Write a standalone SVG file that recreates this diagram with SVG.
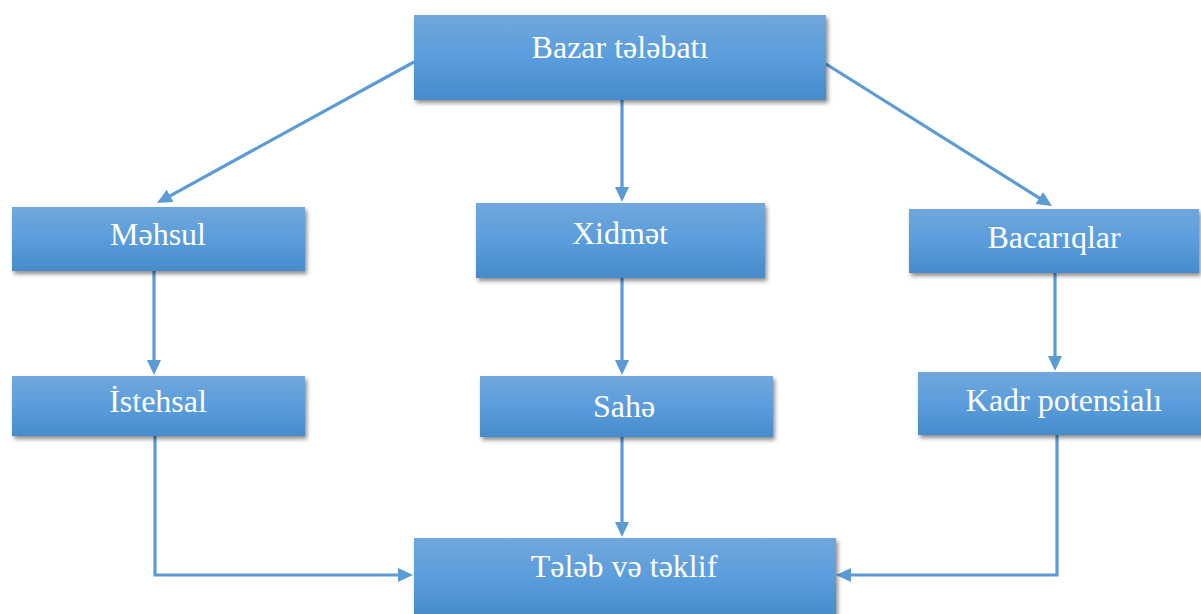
<svg xmlns="http://www.w3.org/2000/svg" width="1201" height="614" viewBox="0 0 1201 614">
<style>
.box{fill:url(#g);filter:url(#sh)}
.lbl{font-family:'Liberation Serif','Times New Roman',Times,serif;font-size:32px;fill:#ffffff;text-anchor:middle}
.con{fill:none;stroke:#5b9bd5;stroke-width:3.2;marker-end:url(#ah)}
</style>
<defs>
<linearGradient id="g" x1="0" y1="0" x2="0" y2="1">
<stop offset="0" stop-color="#71a7dc"/>
<stop offset="0.5" stop-color="#5a9ddc"/>
<stop offset="1" stop-color="#468bcb"/>
</linearGradient>
<filter id="sh" x="-10%" y="-20%" width="120%" height="150%">
<feDropShadow dx="2" dy="3" stdDeviation="2" flood-color="#000" flood-opacity="0.45"/>
</filter>
<marker id="ah" viewBox="0 0 15 14" refX="10" refY="7" markerWidth="15" markerHeight="14" markerUnits="userSpaceOnUse" orient="auto">
<path d="M0,0 L15,7 L0,14 z" fill="#5b9bd5"/>
</marker>
</defs>
<g id="connectors">
<path class="con" d="M414,62 L161.4,200.6"/>
<path class="con" d="M622,100 L622,197"/>
<path class="con" d="M826,64 L1047.8,203.3"/>
<path class="con" d="M154,271 L154,370"/>
<path class="con" d="M622,278 L622,370"/>
<path class="con" d="M1055,273 L1055,366"/>
<path class="con" d="M622,437 L622,532"/>
<path class="con" d="M155,436 L155,575 L408,575"/>
<path class="con" d="M1057,435 L1057,575 L841,575"/>
</g>
<g id="bazar">
<rect class="box" x="414" y="15" width="412" height="85"/>
<text class="lbl" x="620" y="58">Bazar tələbatı</text>
</g>
<g id="mehsul">
<rect class="box" x="12" y="207" width="293" height="64"/>
<text class="lbl" x="158" y="245">Məhsul</text>
</g>
<g id="xidmet">
<rect class="box" x="476" y="203" width="289" height="75"/>
<text class="lbl" x="620" y="244">Xidmət</text>
</g>
<g id="bacariqlar">
<rect class="box" x="909" y="209" width="290" height="64"/>
<text class="lbl" x="1054" y="248">Bacarıqlar</text>
</g>
<g id="istehsal">
<rect class="box" x="12" y="376" width="293" height="60"/>
<text class="lbl" x="158" y="412">İstehsal</text>
</g>
<g id="sahe">
<rect class="box" x="480" y="376" width="293" height="61"/>
<text class="lbl" x="624" y="417">Sahə</text>
</g>
<g id="kadr">
<rect class="box" x="918" y="372" width="286" height="63"/>
<text class="lbl" x="1064" y="411">Kadr potensialı</text>
</g>
<g id="teleb">
<rect class="box" x="414" y="538" width="422" height="80"/>
<text class="lbl" x="624" y="577">Tələb və təklif</text>
</g>
</svg>
